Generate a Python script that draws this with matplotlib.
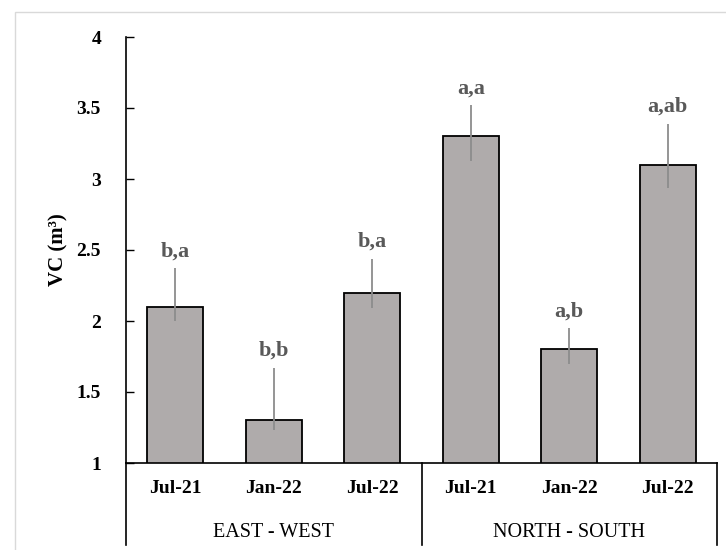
import numpy as np
import matplotlib
matplotlib.use("Agg")
import matplotlib.pyplot as plt
from matplotlib.patches import Rectangle
from matplotlib.transforms import blended_transform_factory

plt.rcParams["font.family"] = ["Liberation Serif", "DejaVu Serif"]

# data
groups = ["EAST - WEST", "NORTH - SOUTH"]
dates = ["Jul-21", "Jan-22", "Jul-22"]
vc_mean = [2.10, 1.30, 2.20, 3.30, 1.80, 3.10]
err_low = [0.10, 0.07, 0.11, 0.17, 0.10, 0.16]
err_high = [0.27, 0.37, 0.24, 0.22, 0.15, 0.29]
letters = ["b,a", "b,b", "b,a", "a,a", "a,b", "a,ab"]

BAR_COLOR = "#AFABAB"
ERR_COLOR = "#8c8c8c"
LETTER_COLOR = "#595959"

fig = plt.figure(figsize=(7.26, 5.5), dpi=100)
ax = fig.add_axes([126 / 726, 1 - 463 / 550, (717 - 126) / 726, (463 - 37) / 550])

# light outer frame (only top/left visible in the original)
fig.patches.append(Rectangle((15 / 726, -0.1), 1.2, 0.1 + 1 - 12 / 550,
                             transform=fig.transFigure, fill=False,
                             edgecolor="#d9d9d9", lw=1.0))

x = np.arange(len(vc_mean))
ax.bar(x, vc_mean, width=0.57, color=BAR_COLOR, edgecolor="black", lw=1.3,
       zorder=2)

low = np.array(vc_mean) - np.array(err_low)
high = np.array(vc_mean) + np.array(err_high)
ax.vlines(x, low, high, color=ERR_COLOR, lw=1.3, zorder=3)

for xi, top, lab in zip(x, high, letters):
    ax.annotate(lab, (xi, top), xytext=(0, 8.5), textcoords="offset points",
                ha="center", va="baseline", fontsize=16, fontweight="bold",
                color=LETTER_COLOR)

ax.set_ylim(1, 4)
ax.set_xlim(-0.5, len(vc_mean) - 0.5)
ax.set_yticks([1, 1.5, 2, 2.5, 3, 3.5, 4])
ax.set_yticklabels(["1", "1.5", "2", "2.5", "3", "3.5", "4"])
ax.tick_params(axis="y", direction="in", length=6, width=1, pad=18,
               labelsize=14)
for t in ax.get_yticklabels():
    t.set_fontweight("bold")

ax.set_xticks(x)
ax.set_xticklabels(dates * len(groups), fontsize=14, fontweight="bold")
ax.tick_params(axis="x", length=0, pad=12)

ax.set_ylabel("VC (m³)", fontsize=15, fontweight="bold", labelpad=6)

for side in ["top", "right"]:
    ax.spines[side].set_visible(False)
ax.spines["left"].set_linewidth(1.2)
ax.spines["bottom"].set_linewidth(1.2)

# grouped category box under the axis
trans = blended_transform_factory(ax.transData, ax.transAxes)
depth = -(545 - 463) / 426
for xb in [-0.5, 2.5, 5.5]:
    ax.plot([xb, xb], [0, depth], transform=trans, color="black", lw=1.2,
            clip_on=False)
for gi, g in enumerate(groups):
    ax.text(gi * 3 + 1, -0.162, g, transform=trans, ha="center", va="center",
            fontsize=14.5)

fig.savefig("out.png", dpi=100)
